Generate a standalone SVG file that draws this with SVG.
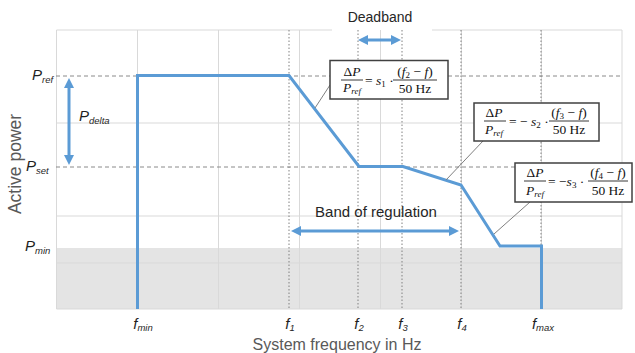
<svg xmlns="http://www.w3.org/2000/svg" width="635" height="353" viewBox="0 0 635 353">
<style>
.grid{stroke:#d9d9d9;stroke-width:1;fill:none}
.vdot{stroke:#808080;stroke-width:1;stroke-dasharray:1.5,2;fill:none}
.hdash{stroke:#8a8a8a;stroke-width:1;stroke-dasharray:4,3;fill:none}
.curve{stroke:#5b9bd5;stroke-width:3;fill:none;stroke-linejoin:miter}
.arr{stroke:#5b9bd5;stroke-width:3;fill:none;marker-start:url(#ah);marker-end:url(#ah)}
.lbl{font-family:"Liberation Sans",Arial,sans-serif;font-style:italic;fill:#1f1f1f}
.ttl{font-family:"Liberation Sans",Arial,sans-serif;fill:#595959}
.txt{font-family:"Liberation Sans",Arial,sans-serif;fill:#262626}
.box{fill:#ffffff;stroke:#404040;stroke-width:1.5}
.frm{font-family:"Liberation Serif","Times New Roman",serif;font-size:13.5px;fill:#111111}
.fl{stroke:#222222;stroke-width:0.9}
.lead{stroke:#808080;stroke-width:1;fill:none}
.it{font-style:italic}
</style>
<defs>
<marker id="ah" markerUnits="userSpaceOnUse" markerWidth="10" markerHeight="10" viewBox="0 0 10 10" refX="6" refY="5" orient="auto-start-reverse">
<path d="M0,0 L10,5 L0,10 z" fill="#5b9bd5"/>
</marker>
</defs>
<rect width="635" height="353" fill="#ffffff"/>

<g id="plot-area">
<rect x="56.5" y="248" width="565.5" height="61" fill="#e4e4e4"/>
<path class="grid" d="M137.5,30V309 M218.5,30V309 M299.5,30V309 M380.5,30V309 M461.5,30V309 M541.5,30V309 M56.5,123H622 M56.5,216H622 M56.5,263H622"/>
<path class="grid" d="M56.5,30V309 M622,30V309 M56.5,309H622 M56.5,30H332 M432,30H622"/>
<path class="hdash" d="M56,76H622 M56,167H622"/>
<path class="vdot" d="M289,30V309 M358,30V309 M402,30V309 M461,30V309 M541,30V309"/>
</g>

<g id="connectors">
<polyline id="characteristic" class="curve" points="137.5,309 137.5,75.5 289,75.5 359,166.5 403,166.5 461,185 500,246 541.5,246 541.5,309"/>
<line id="p-delta-arrow" class="arr" x1="69" y1="82" x2="69" y2="161"/>
<line id="deadband-arrow" class="arr" x1="362" y1="40" x2="397" y2="40"/>
<line id="band-arrow" class="arr" x1="295" y1="231" x2="455" y2="231"/>
<line class="lead" x1="330" y1="85" x2="315" y2="108"/>
<line class="lead" x1="483" y1="141" x2="446" y2="180"/>
<line class="lead" x1="530" y1="202" x2="494" y2="234"/>
</g>

<g id="y-labels">
<text class="lbl" x="32" y="80" font-size="15">P<tspan font-size="9.5" dy="3">ref</tspan></text>
<text class="lbl" x="26" y="171" font-size="15">P<tspan font-size="9.5" dy="3">set</tspan></text>
<text class="lbl" x="25" y="251" font-size="15">P<tspan font-size="9.5" dy="3">min</tspan></text>
<text class="lbl" x="79" y="121" font-size="15">P<tspan font-size="9.5" dy="3">delta</tspan></text>
<text class="ttl" font-size="17.5" text-anchor="middle" transform="translate(21,164) rotate(-90)">Active power</text>
</g>

<g id="x-labels">
<text class="lbl" x="143" y="329" font-size="15" text-anchor="middle">f<tspan font-size="9.5" dy="2">min</tspan></text>
<text class="lbl" x="290" y="329" font-size="15" text-anchor="middle">f<tspan font-size="9.5" dy="2">1</tspan></text>
<text class="lbl" x="359" y="329" font-size="15" text-anchor="middle">f<tspan font-size="9.5" dy="2">2</tspan></text>
<text class="lbl" x="403" y="329" font-size="15" text-anchor="middle">f<tspan font-size="9.5" dy="2">3</tspan></text>
<text class="lbl" x="462" y="329" font-size="15" text-anchor="middle">f<tspan font-size="9.5" dy="2">4</tspan></text>
<text class="lbl" x="543" y="329" font-size="15" text-anchor="middle">f<tspan font-size="9.5" dy="2">max</tspan></text>
<text class="ttl" x="337" y="350" font-size="16" text-anchor="middle">System frequency in Hz</text>
</g>

<g id="deadband-label">
<text class="txt" x="380" y="22" font-size="14" text-anchor="middle">Deadband</text>
</g>
<g id="band-label">
<text class="txt" x="376" y="217" font-size="15" text-anchor="middle">Band of regulation</text>
</g>

<g id="formula-1">
<rect class="box" x="330" y="60.5" width="118" height="38.5"/>
<text class="frm" x="352" y="76" text-anchor="middle">Δ<tspan class="it">P</tspan></text>
<line class="fl" x1="341" y1="80" x2="363" y2="80"/>
<text class="frm it" x="352" y="92" text-anchor="middle">P<tspan font-size="9" dy="2">ref</tspan></text>
<text class="frm" x="365" y="85">= <tspan class="it">s</tspan><tspan font-size="9" dy="2">1</tspan><tspan dy="-2"> ·</tspan></text>
<text class="frm" x="415" y="76" text-anchor="middle">(<tspan class="it">f</tspan><tspan font-size="9" dy="2">2</tspan><tspan dy="-2"> − </tspan><tspan class="it">f</tspan>)</text>
<line class="fl" x1="393" y1="80" x2="437" y2="80"/>
<text class="frm" x="415" y="93" text-anchor="middle">50 Hz</text>
</g>

<g id="formula-2">
<rect class="box" x="474" y="103" width="125" height="38"/>
<text class="frm" x="494" y="117" text-anchor="middle">Δ<tspan class="it">P</tspan></text>
<line class="fl" x1="484" y1="121" x2="506" y2="121"/>
<text class="frm it" x="494" y="134" text-anchor="middle">P<tspan font-size="9" dy="2">ref</tspan></text>
<text class="frm" x="509" y="126">= − <tspan class="it">s</tspan><tspan font-size="9" dy="2">2</tspan><tspan dy="-2"> ·</tspan></text>
<text class="frm" x="569" y="117" text-anchor="middle">(<tspan class="it">f</tspan><tspan font-size="9" dy="2">3</tspan><tspan dy="-2"> − </tspan><tspan class="it">f</tspan>)</text>
<line class="fl" x1="549" y1="121" x2="589" y2="121"/>
<text class="frm" x="569" y="134" text-anchor="middle">50 Hz</text>
</g>

<g id="formula-3">
<rect class="box" x="515" y="163" width="117" height="39"/>
<text class="frm" x="535" y="177" text-anchor="middle">Δ<tspan class="it">P</tspan></text>
<line class="fl" x1="524" y1="181" x2="546" y2="181"/>
<text class="frm it" x="535" y="195" text-anchor="middle">P<tspan font-size="9" dy="2">ref</tspan></text>
<text class="frm" x="548" y="186">= −<tspan class="it">s</tspan><tspan font-size="9" dy="2">3</tspan><tspan dy="-2"> ·</tspan></text>
<text class="frm" x="608" y="177" text-anchor="middle">(<tspan class="it">f</tspan><tspan font-size="9" dy="2">4</tspan><tspan dy="-2"> − </tspan><tspan class="it">f</tspan>)</text>
<line class="fl" x1="588" y1="181" x2="628" y2="181"/>
<text class="frm" x="608" y="195" text-anchor="middle">50 Hz</text>
</g>
</svg>
